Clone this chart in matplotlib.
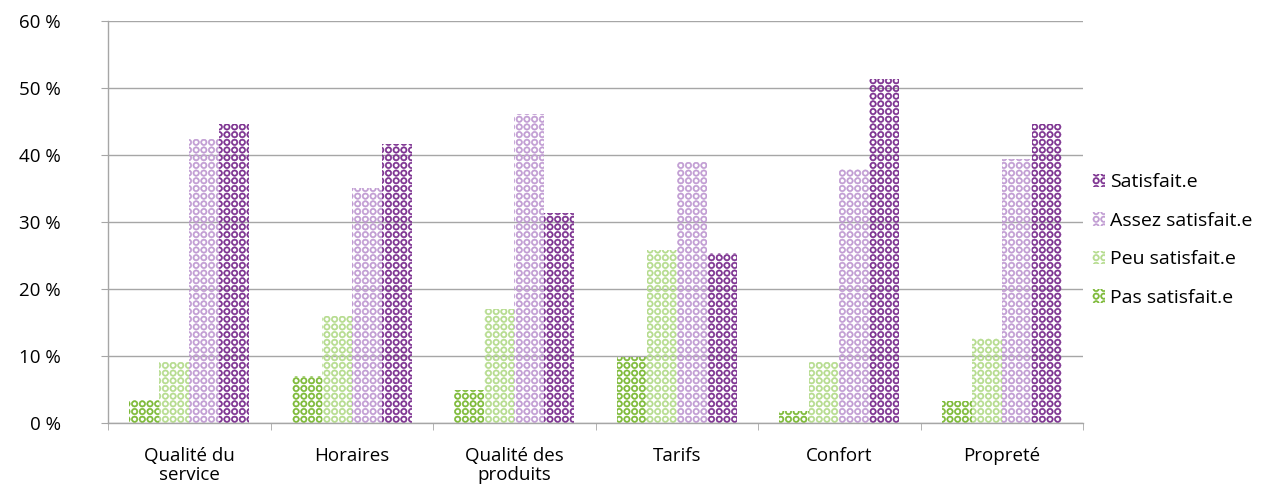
import numpy as np
import matplotlib.pyplot as plt
import matplotlib.hatch as mhatch
from matplotlib.path import Path
from matplotlib.ticker import FixedLocator

categories = ["Qualité du\nservice", "Horaires", "Qualité des\nproduits", "Tarifs", "Confort", "Propreté"]
series_labels = ["Pas satisfait.e", "Peu satisfait.e", "Assez satisfait.e", "Satisfait.e"]
pas_satisfait = [3.4, 7.0, 4.9, 9.8, 1.8, 3.3]
peu_satisfait = [9.1, 16.0, 17.0, 25.8, 9.1, 12.7]
assez_satisfait = [42.4, 35.1, 46.1, 39.0, 37.9, 39.4]
satisfait = [44.7, 41.7, 31.4, 25.3, 51.3, 44.6]
yticks = [0, 10, 20, 30, 40, 50, 60]

colors = ["#7ab833", "#b4db8c", "#c09bd2", "#7a2e8e"]
grid_color = "#a6a6a6"


# Office-like "rings" pattern: open circles on an aligned grid (replaces the 'O' hatch)
class GridRings(mhatch.HatchPatternBase):
    radius = 0.42
    inner = 0.62

    def __init__(self, hatch, density):
        self.num_rows = hatch.count('O') * 13
        circle = Path.unit_circle()
        self.shape_vertices = np.concatenate([circle.vertices, circle.vertices[::-1] * self.inner])
        self.shape_codes = np.concatenate([circle.codes, circle.codes])
        self.num_vertices = self.num_rows ** 2 * len(self.shape_vertices)

    def set_vertices_and_codes(self, vertices, codes):
        n = self.num_rows
        cell = 1.0 / n
        shape = self.shape_vertices * cell * self.radius
        k = len(shape)
        i = 0
        for r in range(n):
            for c in range(n):
                vertices[i:i + k] = shape + [(c + 0.5) * cell, (r + 0.5) * cell]
                codes[i:i + k] = self.shape_codes
                i += k


mhatch._hatch_types = [GridRings if t is mhatch.LargeCircles else t for t in mhatch._hatch_types]

plt.rcParams['font.family'] = ['Open Sans', 'DejaVu Sans']
plt.rcParams['hatch.linewidth'] = 0.4

fig = plt.figure(figsize=(12.88, 4.94), dpi=100)
ax = fig.add_axes([108 / 1288, 71 / 494, 975 / 1288, 402 / 494])

values = [pas_satisfait, peu_satisfait, assez_satisfait, satisfait]
n_cat = len(categories)
x = np.arange(n_cat)
width = 0.185

handles = []
for i, (vals, label, color) in enumerate(zip(values, series_labels, colors)):
    offset = (i - 1.5) * width
    bars = ax.bar(x + offset, vals, width=width, facecolor='none', edgecolor=color,
                  hatch='O', linewidth=0, label=label, zorder=2)
    handles.append(bars)

ax.set_xlim(-0.5, n_cat - 0.5)
ax.set_ylim(0, 60)
ax.set_yticks(yticks)
ax.set_yticklabels([f"{t} %" for t in yticks], fontsize=13.5)
ax.yaxis.grid(True, color=grid_color, linewidth=1, zorder=1)
ax.set_axisbelow(True)

ax.set_xticks(x)
ax.set_xticklabels(categories, fontsize=13.5, linespacing=1.1)
ax.xaxis.set_minor_locator(FixedLocator(np.arange(-0.5, n_cat, 1.0)))
ax.tick_params(axis='x', which='major', length=0, pad=17)
ax.tick_params(axis='x', which='minor', length=5, color=grid_color, direction='out')
ax.tick_params(axis='y', length=5, color=grid_color, direction='out', pad=29)

for side in ['top', 'right']:
    ax.spines[side].set_visible(False)
for side in ['left', 'bottom']:
    ax.spines[side].set_color(grid_color)
    ax.spines[side].set_linewidth(1)

leg = ax.legend(handles[::-1], series_labels[::-1], loc='center left',
                bbox_to_anchor=(1.009, 0.455), frameon=False, fontsize=14,
                borderpad=0, borderaxespad=0,
                handlelength=0.7, handleheight=0.7, handletextpad=0.25, labelspacing=1.05)

fig.savefig("out.png", dpi=100)
